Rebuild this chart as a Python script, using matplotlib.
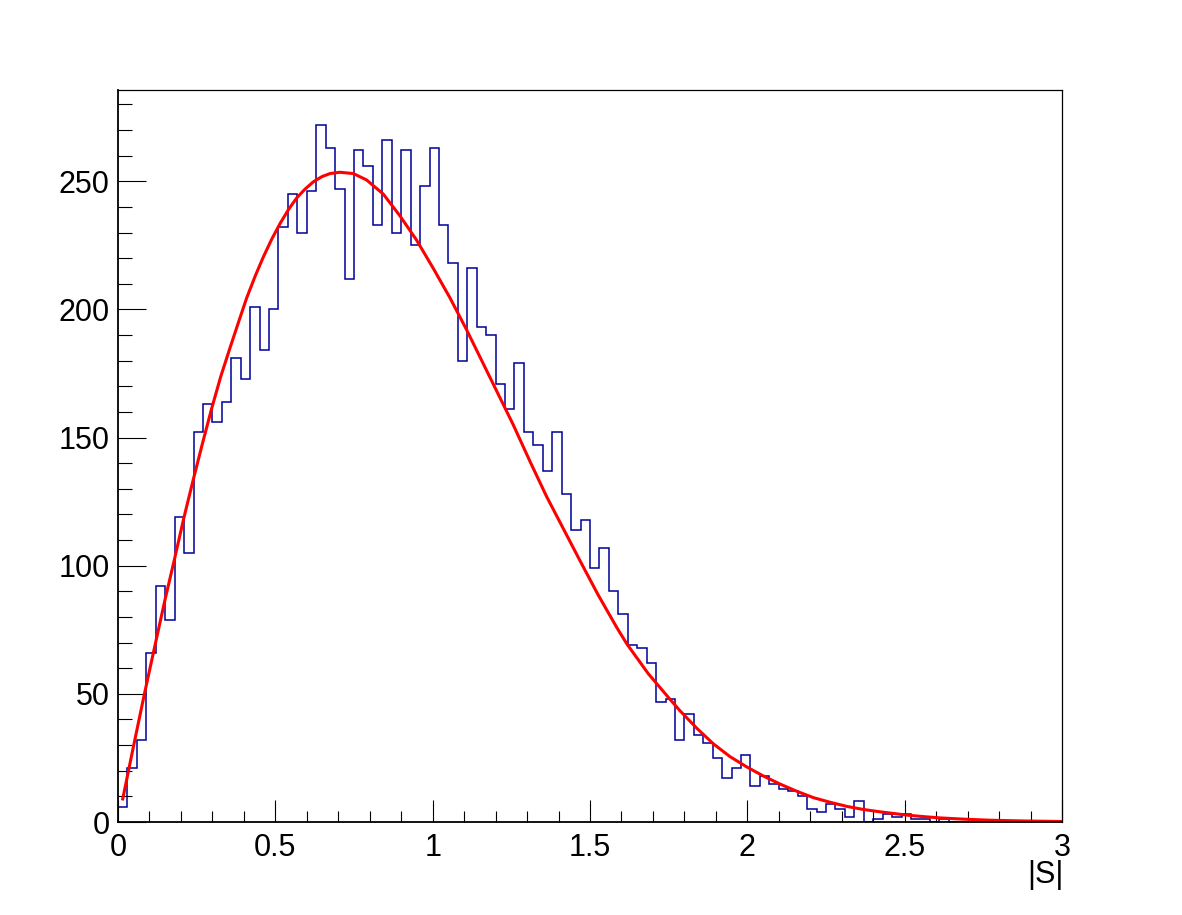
import numpy as np
import matplotlib
matplotlib.use("Agg")
import matplotlib.pyplot as plt
from matplotlib.ticker import MultipleLocator

plt.rcParams['font.family'] = ['Liberation Sans', 'DejaVu Sans']

# histogram: 100 bins of |S| between 0 and 3
x_min, x_max, n_bins = 0.0, 3.0, 100
counts = [6, 21, 32, 66, 92, 79, 119, 105, 152, 163,
          156, 164, 181, 173, 201, 184, 200, 232, 245, 230,
          246, 272, 263, 247, 212, 262, 256, 233, 266, 230,
          262, 225, 248, 263, 233, 218, 180, 216, 193, 190,
          171, 161, 179, 152, 147, 137, 152, 128, 114, 118,
          99, 107, 90, 81, 69, 68, 62, 47, 48, 32,
          42, 34, 31, 25, 17, 21, 26, 14, 18, 15,
          13, 12, 10, 5, 4, 7, 5, 2, 8, 0,
          1, 3, 2, 3, 1, 1, 0, 1, 0, 0,
          0, 0, 0, 0, 0, 0, 0, 0, 0, 0]

# fitted curve
fit_x = [0.015, 0.05, 0.084, 0.115, 0.149, 0.18, 0.208, 0.239, 0.268, 0.298,
         0.327, 0.356, 0.383, 0.409, 0.436, 0.462, 0.489, 0.515, 0.542, 0.568,
         0.595, 0.621, 0.648, 0.674, 0.705, 0.748, 0.79, 0.843, 0.896, 0.949,
         1.002, 1.055, 1.108, 1.15, 1.2, 1.256, 1.31, 1.362, 1.415, 1.468,
         1.525, 1.585, 1.617, 1.685, 1.754, 1.786, 1.84, 1.892, 1.945, 1.998,
         2.05, 2.104, 2.157, 2.21, 2.263, 2.316, 2.368, 2.42, 2.506, 2.56,
         2.612, 2.69, 2.77, 2.88, 3.0]
fit_y = [9, 30, 50, 67.5, 86.5, 102.8, 118, 133.5, 147.5, 161.5,
         174, 185, 195, 204.5, 213, 220.5, 227.5, 233.5, 239, 243.5,
         247, 249.8, 251.8, 253, 253.5, 253, 250.5, 245, 236.5, 227,
         216, 204.5, 192, 181.5, 169, 155, 140.5, 127, 114.5, 102,
         88.8, 75.9, 69.5, 57.9, 47.9, 43.4, 36.5, 30.5, 25.5, 21.5,
         18, 14.8, 12, 9.5, 7.7, 6.1, 4.9, 4, 2.7, 2.1,
         1.6, 1.1, 0.7, 0.4, 0.2]

fig = plt.figure(figsize=(11.82, 9.15), dpi=100)
ax = fig.add_axes([118 / 1182, 93 / 915, 944 / 1182, 732 / 915])

edges = np.linspace(x_min, x_max, n_bins + 1)
ax.stairs(counts, edges, color='#000099', linewidth=1.1, baseline=0)
ax.plot(fit_x, fit_y, color='#ff0000', linewidth=2.2, solid_joinstyle='round')

ax.set_xlim(x_min, x_max)
ax.set_ylim(0, max(counts) * 1.05)

ax.xaxis.set_major_locator(MultipleLocator(0.5))
ax.xaxis.set_minor_locator(MultipleLocator(0.1))
ax.yaxis.set_major_locator(MultipleLocator(50))
ax.yaxis.set_minor_locator(MultipleLocator(10))
ax.xaxis.set_major_formatter(plt.FuncFormatter(lambda v, p: f"{v:g}"))

ax.tick_params(axis='x', which='major', direction='in', length=15.8, width=0.8,
               labelsize=22, pad=8)
ax.tick_params(axis='x', which='minor', direction='in', length=7.9, width=0.8)
ax.tick_params(axis='y', which='major', direction='in', length=20, width=0.8,
               labelsize=22, pad=6)
ax.tick_params(axis='y', which='minor', direction='in', length=10, width=0.8)
ax.tick_params(top=False, right=False, which='both')

for side in ['left', 'bottom']:
    ax.spines[side].set_linewidth(1.3)
for side in ['top', 'right']:
    ax.spines[side].set_linewidth(0.9)

fig.text(1064 / 1182, 1 - 875 / 915, '|S|', ha='right', va='center', fontsize=22)

plt.savefig('out.png', dpi=100)
